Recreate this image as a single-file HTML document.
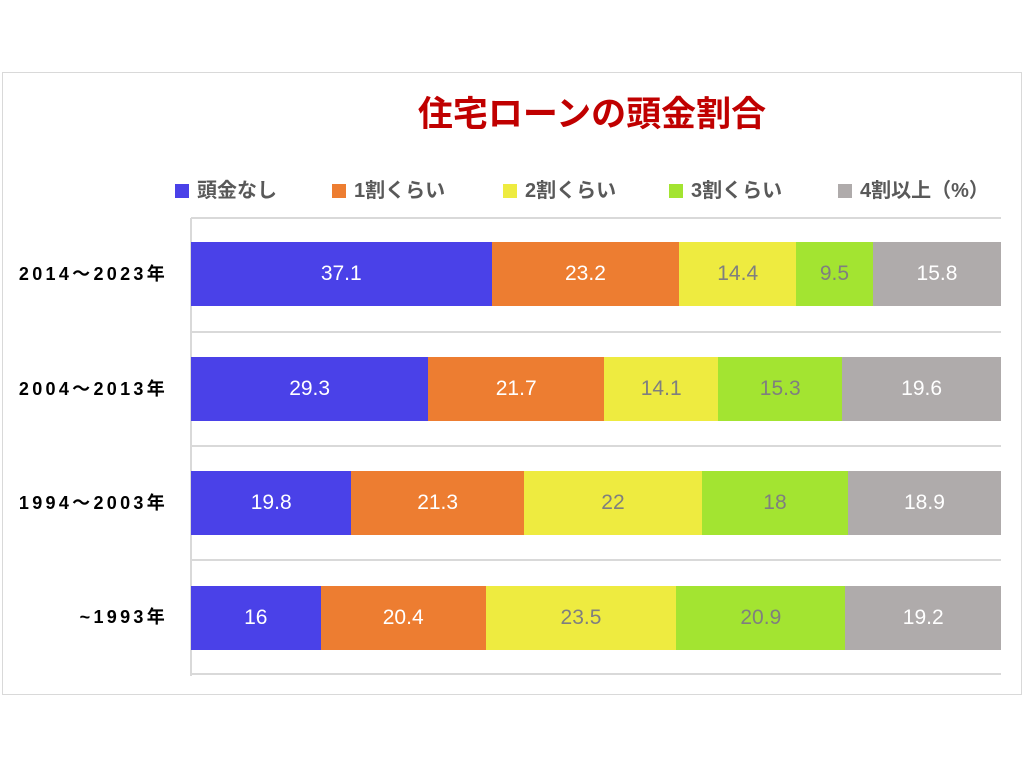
<!DOCTYPE html>
<html><head><meta charset="utf-8"><style>
body{margin:0;width:1024px;height:768px;background:#fff;position:relative;overflow:hidden;font-family:"Liberation Sans","Noto Sans CJK JP",sans-serif}
.frame{position:absolute;left:2px;top:72px;width:1018px;height:621px;border:1px solid #d9d9d9}
.t{position:absolute;left:0;width:1184px;top:86px;text-align:center;font-size:35px;font-weight:bold;color:#c00000}
.lg{position:absolute;top:174px;font-size:20px;font-weight:bold;color:#595959;white-space:nowrap}
.lg i{display:inline-block;width:14px;height:14px;margin-right:8px;vertical-align:-1px}
.grid{position:absolute;left:191px;width:810px;height:2px;background:#d9d9d9}
.ax{position:absolute;left:190px;top:218px;width:2px;height:458px;background:#d9d9d9}
.row{position:absolute;left:191px;height:64px;display:flex;width:810px}
.row div{height:64px;line-height:64px;text-align:center;font-size:21px;color:#fff}
.lab{position:absolute;right:856px;font-size:18px;letter-spacing:3.3px;font-weight:bold;color:#000;line-height:64px;white-space:nowrap}
.b{background:#4a41e8}.o{background:#ed7d31}.y{background:#eeeb40;color:#7f7f7f!important}.g{background:#a3e431;color:#7f7f7f!important}.s{background:#afabab}
</style></head><body>
<div class="frame"></div>
<div class="t">住宅ローンの頭金割合</div>
<div class="lg" style="left:175px"><i class="b"></i>頭金なし</div>
<div class="lg" style="left:332px"><i class="o"></i>1割くらい</div>
<div class="lg" style="left:503px"><i class="y"></i>2割くらい</div>
<div class="lg" style="left:669px"><i class="g"></i>3割くらい</div>
<div class="lg" style="left:838px"><i class="s"></i>4割以上（%）</div>
<div class="grid" style="top:217px"></div>
<div class="grid" style="top:331px"></div>
<div class="grid" style="top:445px"></div>
<div class="grid" style="top:559px"></div>
<div class="grid" style="top:673px"></div>
<div class="ax"></div>
<div class="lab" style="top:242px">2014～2023年</div>
<div class="lab" style="top:357px">2004～2013年</div>
<div class="lab" style="top:471px">1994～2003年</div>
<div class="lab" style="top:585px">~1993年</div>
<div class="row" style="top:242px"><div class="b" style="width:300.5px">37.1</div><div class="o" style="width:187.9px">23.2</div><div class="y" style="width:116.6px">14.4</div><div class="g" style="width:77px">9.5</div><div class="s" style="flex:1">15.8</div></div>
<div class="row" style="top:357px"><div class="b" style="width:237.3px">29.3</div><div class="o" style="width:175.8px">21.7</div><div class="y" style="width:114.2px">14.1</div><div class="g" style="width:123.9px">15.3</div><div class="s" style="flex:1">19.6</div></div>
<div class="row" style="top:471px"><div class="b" style="width:160.4px">19.8</div><div class="o" style="width:172.5px">21.3</div><div class="y" style="width:178.2px">22</div><div class="g" style="width:145.8px">18</div><div class="s" style="flex:1">18.9</div></div>
<div class="row" style="top:586px"><div class="b" style="width:129.6px">16</div><div class="o" style="width:165.2px">20.4</div><div class="y" style="width:190.4px">23.5</div><div class="g" style="width:169.3px">20.9</div><div class="s" style="flex:1">19.2</div></div>
</body></html>
